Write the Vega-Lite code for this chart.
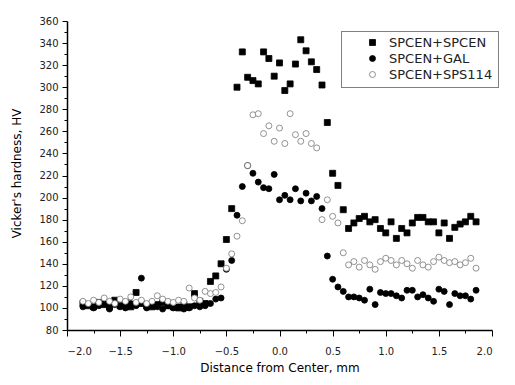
{
  "$schema": "https://vega.github.io/schema/vega-lite/v6.json",
  "width": 425,
  "height": 309,
  "autosize": "none",
  "padding": {"left": 67, "top": 21, "right": 23, "bottom": 55},
  "background": "white",
  "config": {
    "view": {"stroke": null},
    "font": "DejaVu Sans",
    "axis": {"grid": false, "domainColor": "black", "tickColor": "black", "labelColor": "#222", "titleColor": "black", "labelFont": "DejaVu Sans", "titleFont": "DejaVu Sans", "titleFontWeight": "normal", "labelFontSize": 10, "titleFontSize": 12, "domainWidth": 1.5, "tickWidth": 1},
    "legend": {"orient": "none", "legendX": 274, "legendY": 10, "strokeColor": "black", "strokeDash": [1, 1], "padding": 5, "symbolOffset": 20, "labelOffset": 10, "labelFontSize": 13, "labelFont": "DejaVu Sans", "labelColor": "#222", "rowPadding": 2, "symbolStrokeWidth": 0.8}
  },
  "datasets": {
    "pts": [
      {"d":-1.85,"s":"SPCEN+SPCEN","h":104},{"d":-1.80,"s":"SPCEN+SPCEN","h":102},{"d":-1.75,"s":"SPCEN+SPCEN","h":101},{"d":-1.70,"s":"SPCEN+SPCEN","h":105},{"d":-1.65,"s":"SPCEN+SPCEN","h":103},{"d":-1.60,"s":"SPCEN+SPCEN","h":101},{"d":-1.55,"s":"SPCEN+SPCEN","h":107},{"d":-1.50,"s":"SPCEN+SPCEN","h":102},{"d":-1.45,"s":"SPCEN+SPCEN","h":105},{"d":-1.40,"s":"SPCEN+SPCEN","h":101},{"d":-1.35,"s":"SPCEN+SPCEN","h":114},{"d":-1.30,"s":"SPCEN+SPCEN","h":104},{"d":-1.25,"s":"SPCEN+SPCEN","h":102},{"d":-1.20,"s":"SPCEN+SPCEN","h":101},{"d":-1.15,"s":"SPCEN+SPCEN","h":103},{"d":-1.10,"s":"SPCEN+SPCEN","h":105},{"d":-1.05,"s":"SPCEN+SPCEN","h":102},{"d":-1.00,"s":"SPCEN+SPCEN","h":101},{"d":-0.95,"s":"SPCEN+SPCEN","h":100},{"d":-0.90,"s":"SPCEN+SPCEN","h":103},{"d":-0.85,"s":"SPCEN+SPCEN","h":101},{"d":-0.80,"s":"SPCEN+SPCEN","h":113},{"d":-0.75,"s":"SPCEN+SPCEN","h":106},{"d":-0.70,"s":"SPCEN+SPCEN","h":104},{"d":-0.65,"s":"SPCEN+SPCEN","h":124},{"d":-0.60,"s":"SPCEN+SPCEN","h":129},{"d":-0.55,"s":"SPCEN+SPCEN","h":140},{"d":-0.50,"s":"SPCEN+SPCEN","h":162},{"d":-0.45,"s":"SPCEN+SPCEN","h":190},{"d":-0.40,"s":"SPCEN+SPCEN","h":300},{"d":-0.35,"s":"SPCEN+SPCEN","h":332},{"d":-0.30,"s":"SPCEN+SPCEN","h":309},{"d":-0.25,"s":"SPCEN+SPCEN","h":306},{"d":-0.20,"s":"SPCEN+SPCEN","h":303},{"d":-0.15,"s":"SPCEN+SPCEN","h":332},{"d":-0.10,"s":"SPCEN+SPCEN","h":326},{"d":-0.05,"s":"SPCEN+SPCEN","h":310},{"d":0.00,"s":"SPCEN+SPCEN","h":322},{"d":0.05,"s":"SPCEN+SPCEN","h":297},{"d":0.10,"s":"SPCEN+SPCEN","h":303},{"d":0.15,"s":"SPCEN+SPCEN","h":321},{"d":0.20,"s":"SPCEN+SPCEN","h":343},{"d":0.25,"s":"SPCEN+SPCEN","h":333},{"d":0.30,"s":"SPCEN+SPCEN","h":323},{"d":0.35,"s":"SPCEN+SPCEN","h":316},{"d":0.40,"s":"SPCEN+SPCEN","h":302},{"d":0.45,"s":"SPCEN+SPCEN","h":268},{"d":0.50,"s":"SPCEN+SPCEN","h":222},{"d":0.55,"s":"SPCEN+SPCEN","h":211},{"d":0.60,"s":"SPCEN+SPCEN","h":189},{"d":0.65,"s":"SPCEN+SPCEN","h":172},{"d":0.70,"s":"SPCEN+SPCEN","h":177},{"d":0.75,"s":"SPCEN+SPCEN","h":181},{"d":0.80,"s":"SPCEN+SPCEN","h":183},{"d":0.85,"s":"SPCEN+SPCEN","h":178},{"d":0.90,"s":"SPCEN+SPCEN","h":180},{"d":0.95,"s":"SPCEN+SPCEN","h":172},{"d":1.00,"s":"SPCEN+SPCEN","h":168},{"d":1.05,"s":"SPCEN+SPCEN","h":178},{"d":1.10,"s":"SPCEN+SPCEN","h":163},{"d":1.15,"s":"SPCEN+SPCEN","h":172},{"d":1.20,"s":"SPCEN+SPCEN","h":168},{"d":1.25,"s":"SPCEN+SPCEN","h":177},{"d":1.30,"s":"SPCEN+SPCEN","h":182},{"d":1.35,"s":"SPCEN+SPCEN","h":182},{"d":1.40,"s":"SPCEN+SPCEN","h":178},{"d":1.45,"s":"SPCEN+SPCEN","h":178},{"d":1.50,"s":"SPCEN+SPCEN","h":168},{"d":1.55,"s":"SPCEN+SPCEN","h":177},{"d":1.60,"s":"SPCEN+SPCEN","h":163},{"d":1.65,"s":"SPCEN+SPCEN","h":173},{"d":1.70,"s":"SPCEN+SPCEN","h":176},{"d":1.75,"s":"SPCEN+SPCEN","h":178},{"d":1.80,"s":"SPCEN+SPCEN","h":183},{"d":1.85,"s":"SPCEN+SPCEN","h":178},
      {"d":-1.85,"s":"SPCEN+GAL","h":101},{"d":-1.80,"s":"SPCEN+GAL","h":103},{"d":-1.75,"s":"SPCEN+GAL","h":100},{"d":-1.70,"s":"SPCEN+GAL","h":102},{"d":-1.65,"s":"SPCEN+GAL","h":104},{"d":-1.60,"s":"SPCEN+GAL","h":99},{"d":-1.55,"s":"SPCEN+GAL","h":103},{"d":-1.50,"s":"SPCEN+GAL","h":101},{"d":-1.45,"s":"SPCEN+GAL","h":100},{"d":-1.40,"s":"SPCEN+GAL","h":104},{"d":-1.35,"s":"SPCEN+GAL","h":102},{"d":-1.30,"s":"SPCEN+GAL","h":127},{"d":-1.25,"s":"SPCEN+GAL","h":100},{"d":-1.20,"s":"SPCEN+GAL","h":103},{"d":-1.15,"s":"SPCEN+GAL","h":101},{"d":-1.10,"s":"SPCEN+GAL","h":99},{"d":-1.05,"s":"SPCEN+GAL","h":102},{"d":-1.00,"s":"SPCEN+GAL","h":100},{"d":-0.95,"s":"SPCEN+GAL","h":101},{"d":-0.90,"s":"SPCEN+GAL","h":99},{"d":-0.85,"s":"SPCEN+GAL","h":100},{"d":-0.80,"s":"SPCEN+GAL","h":102},{"d":-0.75,"s":"SPCEN+GAL","h":101},{"d":-0.70,"s":"SPCEN+GAL","h":102},{"d":-0.65,"s":"SPCEN+GAL","h":104},{"d":-0.60,"s":"SPCEN+GAL","h":108},{"d":-0.55,"s":"SPCEN+GAL","h":109},{"d":-0.50,"s":"SPCEN+GAL","h":135},{"d":-0.45,"s":"SPCEN+GAL","h":143},{"d":-0.40,"s":"SPCEN+GAL","h":184},{"d":-0.35,"s":"SPCEN+GAL","h":210},{"d":-0.30,"s":"SPCEN+GAL","h":229},{"d":-0.25,"s":"SPCEN+GAL","h":222},{"d":-0.20,"s":"SPCEN+GAL","h":214},{"d":-0.15,"s":"SPCEN+GAL","h":209},{"d":-0.10,"s":"SPCEN+GAL","h":208},{"d":-0.05,"s":"SPCEN+GAL","h":221},{"d":0.00,"s":"SPCEN+GAL","h":198},{"d":0.05,"s":"SPCEN+GAL","h":202},{"d":0.10,"s":"SPCEN+GAL","h":198},{"d":0.15,"s":"SPCEN+GAL","h":208},{"d":0.20,"s":"SPCEN+GAL","h":197},{"d":0.25,"s":"SPCEN+GAL","h":204},{"d":0.30,"s":"SPCEN+GAL","h":197},{"d":0.35,"s":"SPCEN+GAL","h":201},{"d":0.40,"s":"SPCEN+GAL","h":190},{"d":0.45,"s":"SPCEN+GAL","h":147},{"d":0.50,"s":"SPCEN+GAL","h":126},{"d":0.55,"s":"SPCEN+GAL","h":119},{"d":0.60,"s":"SPCEN+GAL","h":115},{"d":0.65,"s":"SPCEN+GAL","h":110},{"d":0.70,"s":"SPCEN+GAL","h":110},{"d":0.75,"s":"SPCEN+GAL","h":109},{"d":0.80,"s":"SPCEN+GAL","h":107},{"d":0.85,"s":"SPCEN+GAL","h":117},{"d":0.90,"s":"SPCEN+GAL","h":103},{"d":0.95,"s":"SPCEN+GAL","h":114},{"d":1.00,"s":"SPCEN+GAL","h":113},{"d":1.05,"s":"SPCEN+GAL","h":113},{"d":1.10,"s":"SPCEN+GAL","h":111},{"d":1.15,"s":"SPCEN+GAL","h":109},{"d":1.20,"s":"SPCEN+GAL","h":116},{"d":1.25,"s":"SPCEN+GAL","h":116},{"d":1.30,"s":"SPCEN+GAL","h":110},{"d":1.35,"s":"SPCEN+GAL","h":112},{"d":1.40,"s":"SPCEN+GAL","h":109},{"d":1.45,"s":"SPCEN+GAL","h":106},{"d":1.50,"s":"SPCEN+GAL","h":117},{"d":1.55,"s":"SPCEN+GAL","h":115},{"d":1.60,"s":"SPCEN+GAL","h":103},{"d":1.65,"s":"SPCEN+GAL","h":113},{"d":1.70,"s":"SPCEN+GAL","h":111},{"d":1.75,"s":"SPCEN+GAL","h":111},{"d":1.80,"s":"SPCEN+GAL","h":108},{"d":1.85,"s":"SPCEN+GAL","h":116},
      {"d":-1.85,"s":"SPCEN+SPS114","h":106},{"d":-1.80,"s":"SPCEN+SPS114","h":104},{"d":-1.75,"s":"SPCEN+SPS114","h":107},{"d":-1.70,"s":"SPCEN+SPS114","h":105},{"d":-1.65,"s":"SPCEN+SPS114","h":109},{"d":-1.60,"s":"SPCEN+SPS114","h":106},{"d":-1.55,"s":"SPCEN+SPS114","h":104},{"d":-1.50,"s":"SPCEN+SPS114","h":108},{"d":-1.45,"s":"SPCEN+SPS114","h":106},{"d":-1.40,"s":"SPCEN+SPS114","h":110},{"d":-1.35,"s":"SPCEN+SPS114","h":105},{"d":-1.30,"s":"SPCEN+SPS114","h":107},{"d":-1.25,"s":"SPCEN+SPS114","h":104},{"d":-1.20,"s":"SPCEN+SPS114","h":106},{"d":-1.15,"s":"SPCEN+SPS114","h":111},{"d":-1.10,"s":"SPCEN+SPS114","h":108},{"d":-1.05,"s":"SPCEN+SPS114","h":106},{"d":-1.00,"s":"SPCEN+SPS114","h":105},{"d":-0.95,"s":"SPCEN+SPS114","h":107},{"d":-0.90,"s":"SPCEN+SPS114","h":106},{"d":-0.85,"s":"SPCEN+SPS114","h":118},{"d":-0.80,"s":"SPCEN+SPS114","h":109},{"d":-0.75,"s":"SPCEN+SPS114","h":107},{"d":-0.70,"s":"SPCEN+SPS114","h":115},{"d":-0.65,"s":"SPCEN+SPS114","h":113},{"d":-0.60,"s":"SPCEN+SPS114","h":114},{"d":-0.55,"s":"SPCEN+SPS114","h":119},{"d":-0.50,"s":"SPCEN+SPS114","h":136},{"d":-0.45,"s":"SPCEN+SPS114","h":149},{"d":-0.40,"s":"SPCEN+SPS114","h":165},{"d":-0.35,"s":"SPCEN+SPS114","h":179},{"d":-0.30,"s":"SPCEN+SPS114","h":229},{"d":-0.25,"s":"SPCEN+SPS114","h":275},{"d":-0.20,"s":"SPCEN+SPS114","h":276},{"d":-0.15,"s":"SPCEN+SPS114","h":258},{"d":-0.10,"s":"SPCEN+SPS114","h":265},{"d":-0.05,"s":"SPCEN+SPS114","h":251},{"d":0.00,"s":"SPCEN+SPS114","h":263},{"d":0.05,"s":"SPCEN+SPS114","h":249},{"d":0.10,"s":"SPCEN+SPS114","h":276},{"d":0.15,"s":"SPCEN+SPS114","h":257},{"d":0.20,"s":"SPCEN+SPS114","h":251},{"d":0.25,"s":"SPCEN+SPS114","h":258},{"d":0.30,"s":"SPCEN+SPS114","h":249},{"d":0.35,"s":"SPCEN+SPS114","h":245},{"d":0.40,"s":"SPCEN+SPS114","h":180},{"d":0.45,"s":"SPCEN+SPS114","h":198},{"d":0.50,"s":"SPCEN+SPS114","h":183},{"d":0.55,"s":"SPCEN+SPS114","h":177},{"d":0.60,"s":"SPCEN+SPS114","h":150},{"d":0.65,"s":"SPCEN+SPS114","h":139},{"d":0.70,"s":"SPCEN+SPS114","h":142},{"d":0.75,"s":"SPCEN+SPS114","h":137},{"d":0.80,"s":"SPCEN+SPS114","h":143},{"d":0.85,"s":"SPCEN+SPS114","h":139},{"d":0.90,"s":"SPCEN+SPS114","h":135},{"d":0.95,"s":"SPCEN+SPS114","h":142},{"d":1.00,"s":"SPCEN+SPS114","h":145},{"d":1.05,"s":"SPCEN+SPS114","h":143},{"d":1.10,"s":"SPCEN+SPS114","h":139},{"d":1.15,"s":"SPCEN+SPS114","h":143},{"d":1.20,"s":"SPCEN+SPS114","h":140},{"d":1.25,"s":"SPCEN+SPS114","h":136},{"d":1.30,"s":"SPCEN+SPS114","h":143},{"d":1.35,"s":"SPCEN+SPS114","h":139},{"d":1.40,"s":"SPCEN+SPS114","h":137},{"d":1.45,"s":"SPCEN+SPS114","h":142},{"d":1.50,"s":"SPCEN+SPS114","h":146},{"d":1.55,"s":"SPCEN+SPS114","h":143},{"d":1.60,"s":"SPCEN+SPS114","h":141},{"d":1.65,"s":"SPCEN+SPS114","h":142},{"d":1.70,"s":"SPCEN+SPS114","h":139},{"d":1.75,"s":"SPCEN+SPS114","h":141},{"d":1.80,"s":"SPCEN+SPS114","h":145},{"d":1.85,"s":"SPCEN+SPS114","h":136}
    ]
  },
  "data": {"name": "pts"},
  "mark": {"type": "point", "opacity": 1, "strokeWidth": 0.8},
  "encoding": {
    "x": {
      "field": "d", "type": "quantitative",
      "scale": {"domain": [-2, 2], "nice": false, "zero": false},
      "axis": {
        "title": "Distance from Center, mm",
        "values": [-2,-1.75,-1.5,-1.25,-1,-0.75,-0.5,-0.25,0,0.25,0.5,0.75,1,1.25,1.5,1.75,2],
        "labelExpr": "abs(datum.value*2 - round(datum.value*2)) < 0.001 ? format(datum.value, '.1f') : ''",
        "tickSize": {"condition": {"test": "abs(datum.value*2 - round(datum.value*2)) < 0.001", "value": 6}, "value": 3},
        "labelPadding": 10,
        "titlePadding": 6
      }
    },
    "y": {
      "field": "h", "type": "quantitative",
      "scale": {"domain": [80, 360], "nice": false, "zero": false},
      "axis": {
        "title": "Vicker's hardness, HV",
        "values": [80,90,100,110,120,130,140,150,160,170,180,190,200,210,220,230,240,250,260,270,280,290,300,310,320,330,340,350,360],
        "labelExpr": "datum.value % 20 === 0 ? datum.label : ''",
        "tickSize": {"condition": {"test": "datum.value % 20 === 0", "value": 5}, "value": 3},
        "labelPadding": 4,
        "titleAngle": -90,
        "titleX": -51,
        "titleY": 152,
        "titleAlign": "center",
        "titleBaseline": "middle"
      }
    },
    "shape": {
      "field": "s", "type": "nominal", "title": null,
      "scale": {"domain": ["SPCEN+SPCEN", "SPCEN+GAL", "SPCEN+SPS114"], "range": ["square", "circle", "circle"]}
    },
    "fill": {
      "field": "s", "type": "nominal", "title": null,
      "scale": {"domain": ["SPCEN+SPCEN", "SPCEN+GAL", "SPCEN+SPS114"], "range": ["black", "black", "white"]}
    },
    "stroke": {
      "field": "s", "type": "nominal", "title": null,
      "scale": {"domain": ["SPCEN+SPCEN", "SPCEN+GAL", "SPCEN+SPS114"], "range": ["black", "black", "#777777"]}
    },
    "size": {
      "field": "s", "type": "nominal", "title": null,
      "scale": {"domain": ["SPCEN+SPCEN", "SPCEN+GAL", "SPCEN+SPS114"], "range": [36, 36, 10]}
    }
  }
}
